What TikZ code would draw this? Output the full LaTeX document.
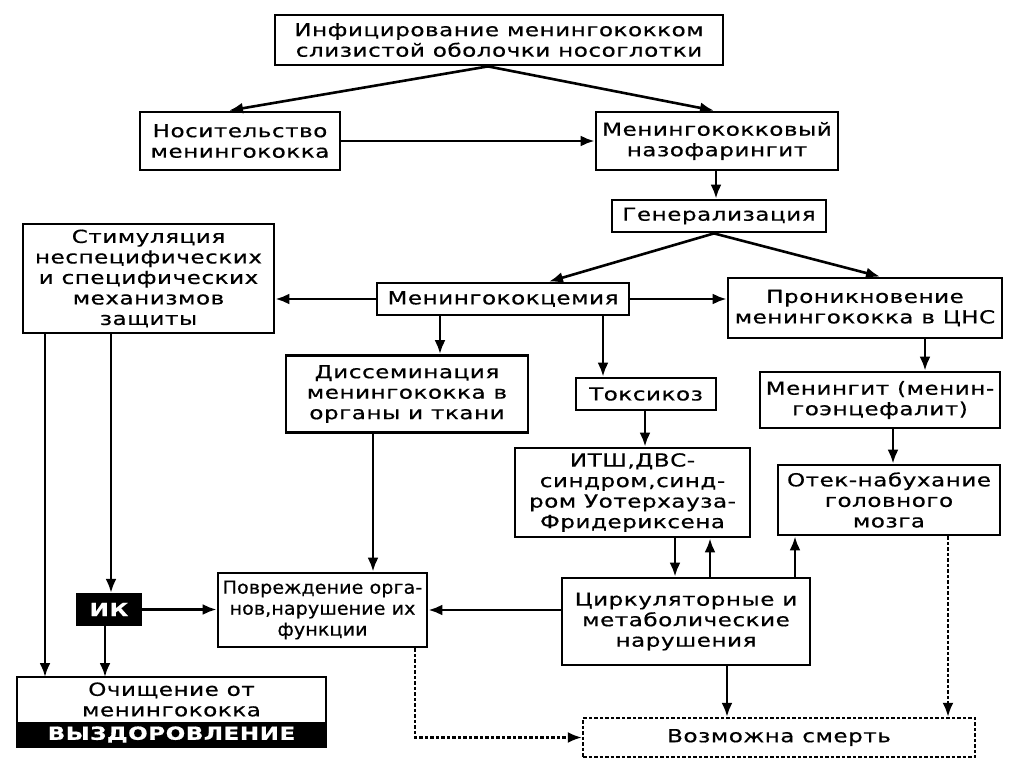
\documentclass[tikz,border=0pt]{standalone}
\usepackage{fontspec}
\setmainfont{DejaVu Sans}[FakeStretch=1.28, LetterSpace=3, FakeBold=0.6]
\newfontfamily\narrowfont{DejaVu Sans}[FakeStretch=1.06, LetterSpace=0.5, FakeBold=0.6]
\usetikzlibrary{arrows.meta}
\begin{document}
\begin{tikzpicture}[x=1pt,y=-1pt,
  every node/.style={font=\fontsize{18}{20.5}\selectfont},
  box/.style={draw, line width=2.8pt, inner sep=0pt, align=center, fill=white},
  darkbox/.style={fill=black, text=white, inner sep=0pt, align=center, font=\fontsize{18}{20}\selectfont\bfseries},
  arr/.style={line width=2.6pt, -{Latex[length=14pt,width=11pt]}},
  dasharr/.style={line width=2.4pt, dash pattern=on 3.5pt off 2pt, -{Latex[length=14pt,width=11pt]}},
  dashbox/.style={draw, line width=2.4pt, dash pattern=on 3.5pt off 2pt, inner sep=0pt, align=center}
]
\useasboundingbox[fill=white] (0,0) rectangle (1024,767);

\node[box, minimum width=448, minimum height=50] (top) at (499,40) {Инфицирование менингококком\\слизистой оболочки носоглотки};
\node[box, minimum width=200, minimum height=58] (nos) at (240,141) {Носительство\\менингококка};
\node[box, minimum width=242, minimum height=58] (naz) at (717,141) {Менингококковый\\назофарингит};
\node[box, minimum width=214, minimum height=32] (gen) at (719,216) {Генерализация};
\node[box, minimum width=251, minimum height=109] (stim) at (148.5,278.5) {Стимуляция\\неспецифических\\и специфических\\механизмов\\защиты};
\node[box, minimum width=252, minimum height=32] (mcem) at (503,299) {Менингококцемия};
\node[box, minimum width=274, minimum height=60] (pron) at (865,308) {Проникновение\\менингококка в ЦНС};
\node[box, minimum width=242, minimum height=77] (diss) at (407,394) {Диссеминация\\менингококка в\\органы и ткани};
\node[box, minimum width=140, minimum height=32] (tox) at (646,394) {Токсикоз};
\node[box, minimum width=240, minimum height=56] (menin) at (880,400) {Менингит (менин-\\гоэнцефалит)};
\node[box, minimum width=235, minimum height=89] (itsh) at (632.5,492.5) {ИТШ,ДВС-\\синдром,синд-\\ром Уотерхауза-\\Фридериксена};
\node[box, minimum width=222, minimum height=70] (otek) at (889,500) {Отек-набухание\\головного\\мозга};
\node[box, minimum width=209, minimum height=74, font=\narrowfont\fontsize{18}{21}\selectfont] (povr) at (322.5,610) {Повреждение орга-\\нов,нарушение их\\функции};
\node[darkbox, minimum width=66, minimum height=33] (ik) at (109,609.5) {ИК};
\node[box, minimum width=248, minimum height=87] (cirk) at (686,621.5) {Циркуляторные и\\метаболические\\нарушения};
\node[inner sep=0pt, outer sep=0pt, align=center, fill=white, minimum width=309, minimum height=45] (ochi) at (171.5,699.5) {Очищение от\\менингококка};
\node[darkbox, outer sep=0pt, minimum width=309, minimum height=25, anchor=north] (vyz) at (ochi.south) {ВЫЗДОРОВЛЕНИЕ};
\draw[line width=2.8pt] (ochi.north west) rectangle (vyz.south east);
\node[dashbox, minimum width=392, minimum height=39] (death) at (779,737.5) {Возможна смерть};

% connectors
\draw[arr] (top.south -| 488,0) -- (nos.north -| 229,0);
\draw[arr] (top.south -| 488,0) -- (naz.north -| 714,0);
\draw[arr] (nos.east) -- (naz.west);
\draw[arr] (naz.south -| 716,0) -- (gen.north -| 716,0);
\draw[arr] (gen.south -| 714,0) -- (mcem.north -| 549,0);
\draw[arr] (gen.south -| 714,0) -- (pron.north -| 880,0);
\draw[arr] (mcem.west) -- (mcem.west -| stim.east);
\draw[arr] (mcem.east) -- (mcem.east -| pron.west);
\draw[arr] (mcem.south -| 440,0) -- (diss.north -| 440,0);
\draw[arr] (mcem.south -| 603,0) -- (tox.north -| 603,0);
\draw[arr] (pron.south -| 925,0) -- (menin.north -| 925,0);
\draw[arr] (tox.south -| 645,0) -- (itsh.north -| 645,0);
\draw[arr] (menin.south -| 893,0) -- (otek.north -| 893,0);
\draw[arr] (diss.south -| 373,0) -- (povr.north -| 373,0);
\draw[arr] (stim.south -| 45,0) -- (ochi.north -| 45,0);
\draw[arr] (stim.south -| 111,0) -- (ik.north -| 111,0);
\draw[arr] (ik.south -| 105,0) -- (ochi.north -| 105,0);
\draw[arr] (ik.east) -- (ik.east -| povr.west);
\draw[arr] (cirk.west |- povr.east) -- (povr.east);
\draw[arr] (itsh.south -| 675,0) -- (cirk.north -| 675,0);
\draw[arr] (cirk.north -| 710,0) -- (itsh.south -| 710,0);
\draw[arr] (cirk.north -| 795,0) -- (otek.south -| 795,0);
\draw[arr] (cirk.south -| 727,0) -- (death.north -| 727,0);
\draw[dasharr] (povr.south -| 415,0) |- (death.west);
\draw[dasharr] (otek.south -| 948,0) -- (death.north -| 948,0);
\end{tikzpicture}
\end{document}
